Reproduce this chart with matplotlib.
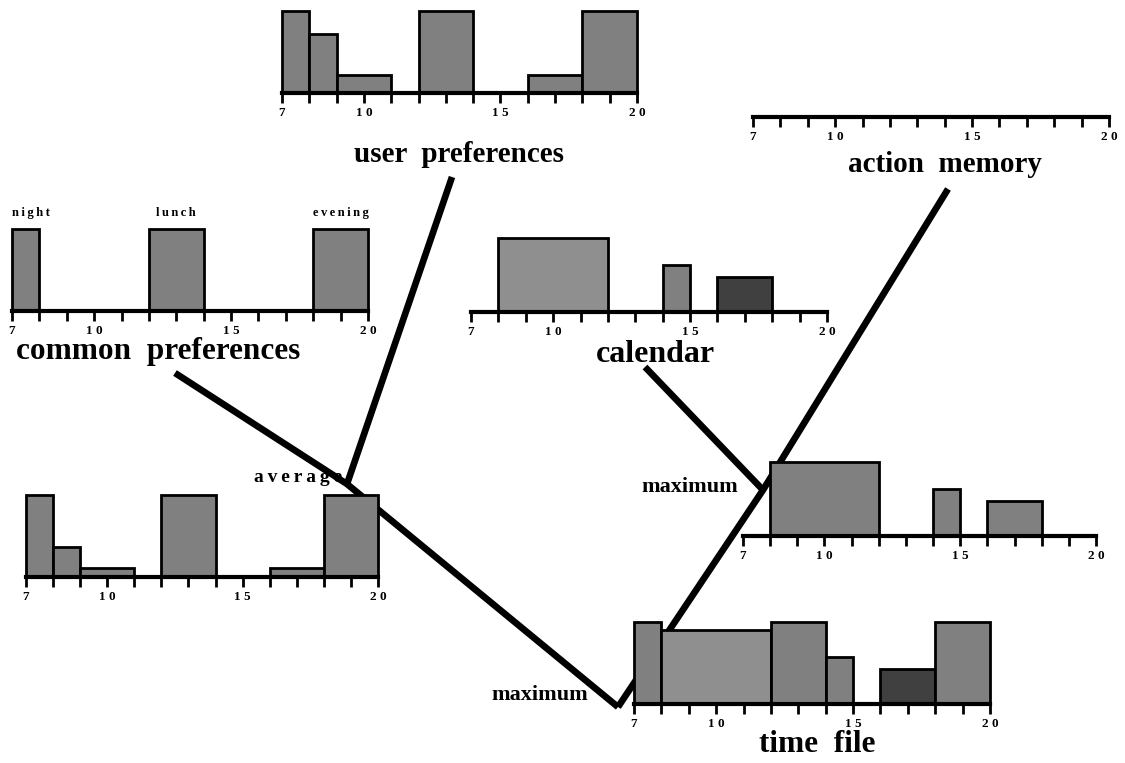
import matplotlib
matplotlib.use("Agg")
import matplotlib.pyplot as plt

# hours covered by the axes
hours = list(range(7, 21))
tick_names = {7: "7", 10: "1 0", 15: "1 5", 20: "2 0"}

# bars of each histogram: start hour, end hour, relative height
user_start = [7, 8, 9, 12, 16, 18]
user_end = [8, 9, 11, 14, 18, 20]
user_h = [1.0, 0.72, 0.22, 1.0, 0.22, 1.0]

common_start = [7, 12, 18]
common_end = [8, 14, 20]
common_h = [1.0, 1.0, 1.0]
common_names = ["night", "lunch", "evening"]

cal_start = [8, 14, 16]
cal_end = [12, 15, 18]
cal_h = [0.9, 0.57, 0.43]

action_start = []
action_end = []
action_h = []

avg_start = [7, 8, 9, 12, 16, 18]
avg_end = [8, 9, 11, 14, 18, 20]
avg_h = [1.0, 0.36, 0.11, 1.0, 0.11, 1.0]

max_start = [8, 14, 16]
max_end = [12, 15, 18]
max_h = [0.9, 0.57, 0.43]

tf_start = [7, 8, 12, 14, 16, 18]
tf_end = [8, 12, 14, 15, 18, 20]
tf_h = [1.0, 0.9, 1.0, 0.57, 0.43, 1.0]

W, H = 1125, 763
BAR_PX = 82
GRAY, LIGHT, DARK = "#808080", "#8f8f8f", "#404040"
SERIF = ["Liberation Serif", "DejaVu Serif"]


def spaced(s):
    # letter spaced look of the small labels
    return "\u2009".join(s)


fig = plt.figure(figsize=(W / 100, H / 100), dpi=100)
fig.patch.set_facecolor("white")

# overlay in pixel coordinates for the connecting lines and titles
ov = fig.add_axes([0, 0, 1, 1], zorder=0)
ov.set_xlim(0, W)
ov.set_ylim(H, 0)
ov.axis("off")


def panel(x7, x20, base, starts, ends, heights, colors):
    ax = fig.add_axes([x7 / W, (H - base) / H, (x20 - x7) / W, BAR_PX / H], zorder=2)
    ax.set_facecolor("none")
    ax.set_xlim(7, 20)
    ax.set_ylim(0, 1)
    widths = [e - s for s, e in zip(starts, ends)]
    if starts:
        ax.bar(starts, heights, width=widths, align="edge", color=colors,
               edgecolor="black", linewidth=2.0, clip_on=False)
    for s in ["top", "left", "right"]:
        ax.spines[s].set_visible(False)
    ax.spines["bottom"].set_linewidth(3)
    ax.set_yticks([])
    ax.set_xticks(hours)
    ax.set_xticklabels([tick_names.get(h, "") for h in hours])
    ax.tick_params(axis="x", direction="out", length=7, width=2, pad=3)
    for lab in ax.get_xticklabels():
        lab.set_fontfamily(SERIF)
        lab.set_fontweight("bold")
        lab.set_fontsize(9.5)
    return ax


panel(282, 637, 93, user_start, user_end, user_h, [GRAY] * 6)
ax_c = panel(12, 368, 311, common_start, common_end, common_h, [GRAY] * 3)
panel(471, 827, 312, cal_start, cal_end, cal_h, [LIGHT, GRAY, DARK])
panel(753, 1109, 117, action_start, action_end, action_h, [])
panel(26, 378, 577, avg_start, avg_end, avg_h, [GRAY] * 6)
panel(743, 1096, 536, max_start, max_end, max_h, [GRAY] * 3)
panel(634, 990, 704, tf_start, tf_end, tf_h, [GRAY, LIGHT, GRAY, GRAY, DARK, GRAY])

# slot names above the common preferences bars
for i, (s, e, name) in enumerate(zip(common_start, common_end, common_names)):
    if i == 0:
        ax_c.text(s, 1.12, spaced(name), ha="left", va="bottom", fontsize=9,
                  fontweight="bold", family=SERIF)
    else:
        ax_c.text((s + e) / 2, 1.12, spaced(name), ha="center", va="bottom", fontsize=9,
                  fontweight="bold", family=SERIF)

# connecting lines
lw = 4.8
ov.plot([452, 347], [177, 484], color="black", lw=lw, solid_capstyle="butt")
ov.plot([175, 347, 618], [373, 484, 707], color="black", lw=lw,
        solid_capstyle="butt", solid_joinstyle="miter")
ov.plot([645, 763], [367, 490], color="black", lw=lw, solid_capstyle="butt")
ov.plot([948, 763, 618], [189, 490, 707], color="black", lw=lw,
        solid_capstyle="butt", solid_joinstyle="miter")

# titles
big = dict(ha="center", va="center", fontweight="bold", family=SERIF, zorder=1)
ov.text(459, 154, "user  preferences", fontsize=21, **big)
ov.text(945, 164, "action  memory", fontsize=21, **big)
ov.text(158, 352, "common  preferences", fontsize=22.5, **big)
ov.text(655, 354, "calendar", fontsize=23, **big)
ov.text(817, 745, "time  file", fontsize=22.5, **big)

small = dict(ha="center", va="center", fontweight="bold", family=SERIF, zorder=1)
ov.text(298, 478, spaced("average"), fontsize=14, **small)
ov.text(690, 487, "maximum", fontsize=16, **small)
ov.text(540, 695, "maximum", fontsize=16, **small)

fig.savefig("out.png", dpi=100)
